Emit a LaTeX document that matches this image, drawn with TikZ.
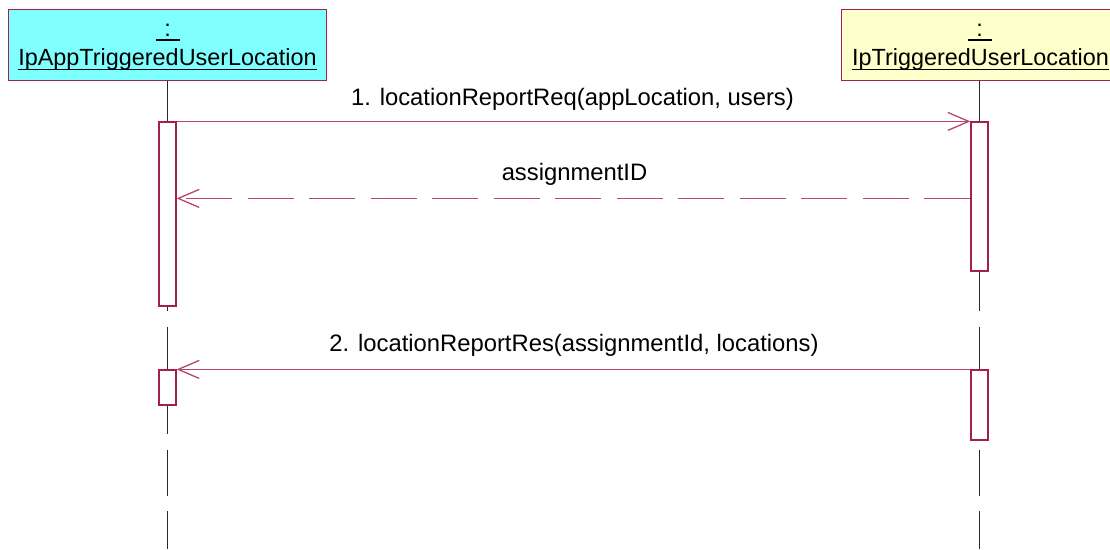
\documentclass[tikz,border=0pt]{standalone}
\usepackage{fontspec}
\setmainfont{Liberation Sans}
\usetikzlibrary{arrows.meta,calc}
\definecolor{umlred}{RGB}{165,30,80}
\definecolor{msgred}{RGB}{185,70,110}
\definecolor{objcyan}{RGB}{128,255,255}
\definecolor{objyellow}{RGB}{255,255,204}
\begin{document}
\begin{tikzpicture}[x=1pt,y=-1pt,
  objbox/.style={draw=umlred, line width=1.2pt, inner sep=0pt},
  lifeline/.style={draw=black!85, line width=1pt, dash pattern=on 46pt off 15.5pt},
  actbox/.style={draw=umlred, fill=white, line width=1.2pt, minimum width=17pt, inner sep=0pt},
  msg/.style={draw=msgred, line width=1.2pt, -{Straight Barb[length=21pt,width=18pt,line width=1.3pt]}},
  reply/.style={msg, dash pattern=on 46pt off 15.5pt},
  lbl/.style={font=\fontsize{23.8}{28}\selectfont, inner sep=0pt, anchor=base},
  objtxt/.style={font=\fontsize{23.4}{27}\selectfont, inner sep=0pt, anchor=base},
  uline/.style={draw=black, line width=1.3pt}]
\useasboundingbox (0,0) rectangle (1110,549);
% objects
\node[objbox, fill=objcyan, minimum width=318pt, minimum height=70.5pt] (objA) at (167.5,44.9) {};
\node[objbox, fill=objyellow, minimum width=276pt, minimum height=70.5pt] (objB) at (979.5,44.9) {};
\node[objtxt] (colA) at (167.5,36) {:};
\draw[uline] ($(colA.base)+(-12,4)$) -- ($(colA.base)+(12,4)$);
\node[objtxt] (nameA) at (167.5,65) {IpAppTriggeredUserLocation};
\draw[uline] ([yshift=-4.5pt]nameA.base west) -- ([yshift=-4.5pt]nameA.base east);
\node[objtxt] (colB) at (979.5,36) {:};
\draw[uline] ($(colB.base)+(-12,4)$) -- ($(colB.base)+(12,4)$);
\node[objtxt] (nameB) at (980.5,65) {IpTriggeredUserLocation};
\draw[uline] ([yshift=-4.5pt]nameB.base west) -- ([yshift=-4.5pt]nameB.base east);
% lifelines
\coordinate (endA) at (167.5,549);
\coordinate (endB) at (979.5,549);
\draw[lifeline] (objA.south) -- (endA);
\draw[lifeline] (objB.south) -- (endB);
% activations
\node[actbox, minimum height=184pt] (actA1) at (167.5,214) {};
\node[actbox, minimum height=35pt] (actA2) at (167.5,387.5) {};
\node[actbox, minimum height=149pt] (actB1) at (979.5,196.5) {};
\node[actbox, minimum height=70pt] (actB2) at (979.5,405) {};
% messages
\draw[msg] (actA1.north east) -- (actB1.north west);
\draw[reply] ($(actB1.north west)+(0,77)$) -- ($(actA1.north east)+(0,77)$);
\draw[msg] (actB2.north west) -- (actA2.north east);
% labels
\node[lbl] (l1) at (572.5,105.5) {1. locationReportReq(appLocation, users)};
\node[lbl] (l2) at (574.5,180) {assignmentID};
\node[lbl] (l3) at (574,351) {2. locationReportRes(assignmentId, locations)};
\end{tikzpicture}
\end{document}
